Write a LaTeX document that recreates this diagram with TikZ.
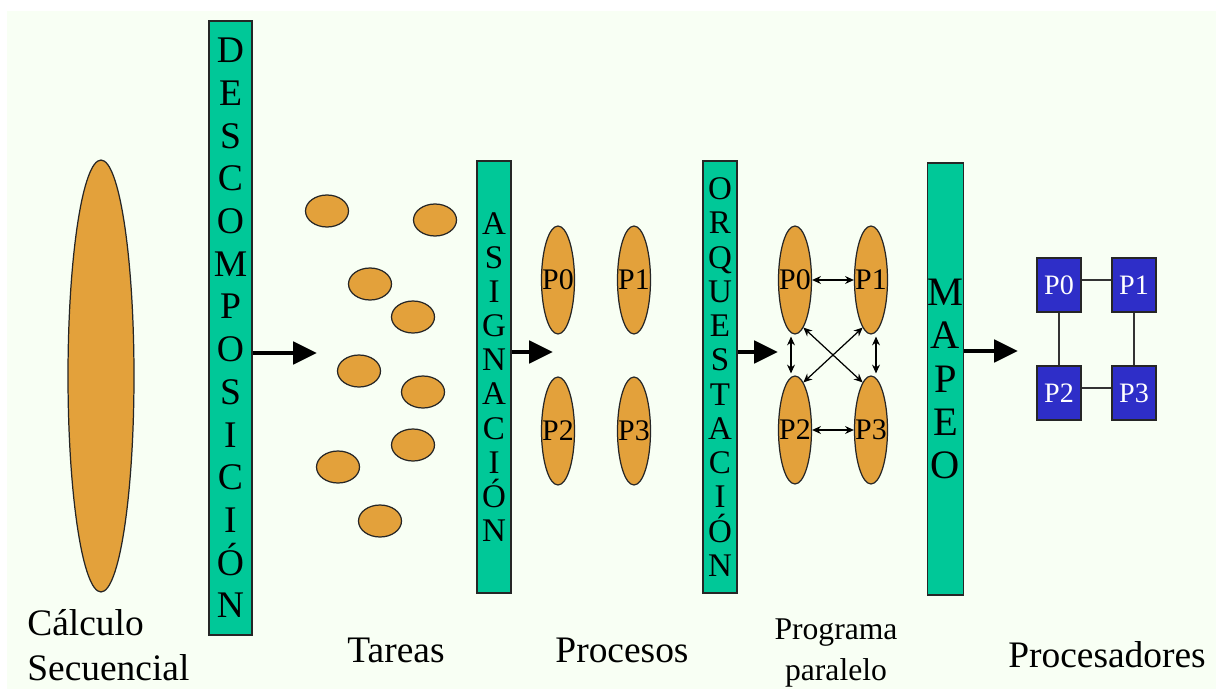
\documentclass[tikz,border=0pt]{standalone}
\usepackage{fontspec}
\setmainfont{Liberation Serif}
\usetikzlibrary{arrows.meta,shapes.geometric}
\definecolor{bgc}{RGB}{248,255,244}
\definecolor{orangec}{RGB}{227,161,59}
\definecolor{greenc}{RGB}{0,200,152}
\definecolor{bluec}{RGB}{46,46,200}
\begin{document}
\begin{tikzpicture}[x=0.02cm,y=-0.02cm,
  bar/.style={rectangle,draw=black!85,fill=greenc,line width=0.8pt,inner sep=0pt,align=center},
  blob/.style={ellipse,draw=black!85,fill=orangec,line width=0.7pt,inner sep=0pt},
  task/.style={blob,minimum width=0.86cm,minimum height=0.64cm},
  proc/.style={blob,minimum width=0.66cm,minimum height=2.16cm,
    label={[font=\fontsize{17}{17}\selectfont,inner sep=0pt]center:#1}},
  cpu/.style={rectangle,draw=black!85,fill=bluec,line width=0.8pt,minimum width=0.88cm,minimum height=1.08cm,inner sep=0pt,text=white,font=\fontsize{16}{16}\selectfont},
  bigarrow/.style={line width=2.8pt,-{Triangle[length=13.6pt,width=12.5pt]}},
  dblarrow/.style={line width=0.7pt,{Stealth[length=5pt,width=4.5pt]}-{Stealth[length=5pt,width=4.5pt]}},
  link/.style={line width=0.8pt,draw=black!80},
  lbl/.style={inner sep=0pt,font=\fontsize{21.3}{24}\selectfont}
]
\useasboundingbox (0,0) rectangle (1216,689);
\fill[bgc] (7,11) rectangle (1216,689);

% big sequential ellipse
\node[blob,minimum width=1.32cm,minimum height=8.64cm] (seq) at (101,376) {};

% bars
\node[bar,minimum width=0.86cm,minimum height=12.28cm,font=\fontsize{21.4}{24.3}\selectfont] (desc) at (230.5,328)
  {D\\E\\S\\C\\O\\M\\P\\O\\S\\I\\C\\I\\Ó\\N};
\node[bar,minimum width=0.68cm,minimum height=8.64cm,font=\fontsize{18.8}{19.4}\selectfont] (asig) at (494,377)
  {A\\S\\I\\G\\N\\A\\C\\I\\Ó\\N};
\node[bar,minimum width=0.68cm,minimum height=8.64cm,font=\fontsize{18.8}{19.5}\selectfont] (orq) at (720,377)
  {O\\R\\Q\\U\\E\\S\\T\\A\\C\\I\\Ó\\N};
\node[bar,minimum width=0.66cm,minimum height=8.64cm,font=\fontsize{23}{24.7}\selectfont] (mapeo) at (945.5,379)
  {M\\A\\P\\E\\O};

% tasks
\node[task] (t1) at (327,211) {};
\node[task] (t2) at (435,220) {};
\node[task] (t3) at (370,284) {};
\node[task] (t4) at (413,317) {};
\node[task] (t5) at (359,371) {};
\node[task] (t6) at (423,392) {};
\node[task] (t7) at (413,445) {};
\node[task] (t8) at (338,467) {};
\node[task] (t9) at (380,521) {};

% processes
\node[proc=P0] (p0) at (558,280) {};
\node[proc=P1] (p1) at (634,280) {};
\node[proc=P2] (p2) at (558,431) {};
\node[proc=P3] (p3) at (634,431) {};

% parallel program
\node[proc=P0] (q0) at (795,280) {};
\node[proc=P1] (q1) at (871,280) {};
\node[proc=P2] (q2) at (795,430) {};
\node[proc=P3] (q3) at (871,430) {};
\draw[dblarrow] (q0.east) -- (q1.west);
\draw[dblarrow] (q2.east) -- (q3.west);
\draw[dblarrow] ([xshift=-0.08cm,yshift=-0.04cm]q0.south) -- ([xshift=-0.08cm,yshift=0.04cm]q2.north);
\draw[dblarrow] ([xshift=0.1cm,yshift=-0.04cm]q1.south) -- ([xshift=0.1cm,yshift=0.04cm]q3.north);
\draw[dblarrow] (q0.280) -- (q3.100);
\draw[dblarrow] (q1.260) -- (q2.80);

% processors
\node[cpu] (s0) at (1059,285) {P0};
\node[cpu] (s1) at (1134,285) {P1};
\node[cpu] (s2) at (1059,393) {P2};
\node[cpu] (s3) at (1134,393) {P3};
\draw[link] ([yshift=0.1cm]s0.east) -- ([yshift=0.1cm]s1.west);
\draw[link] ([yshift=0.1cm]s2.east) -- ([yshift=0.1cm]s3.west);
\draw[link] (s0.south) -- (s2.north);
\draw[link] (s1.south) -- (s3.north);

% big arrows
\coordinate (a1) at (317,353);
\coordinate (a2) at (553,352);
\coordinate (a3) at (778,352);
\coordinate (a4) at (1018,351);
\draw[bigarrow] (desc.east |- a1) -- (a1);
\draw[bigarrow] (asig.east |- a2) -- (a2);
\draw[bigarrow] (orq.east |- a3) -- (a3);
\draw[bigarrow] (mapeo.east |- a4) -- (a4);

% labels
\node[lbl,anchor=base west] (l1) at (27,635) {Cálculo};
\node[lbl,anchor=base west] (l2) at (27,680) {Secuencial};
\node[lbl,anchor=base] (l3) at (396,662) {Tareas};
\node[lbl,anchor=base] (l4) at (622,662) {Procesos};
\node[lbl,anchor=base,font=\fontsize{18}{18}\selectfont] (l5) at (836,639) {Programa};
\node[lbl,anchor=base,font=\fontsize{18}{18}\selectfont] (l6) at (836,680) {paralelo};
\node[lbl,anchor=base] (l7) at (1107,667) {Procesadores};
\end{tikzpicture}
\end{document}
